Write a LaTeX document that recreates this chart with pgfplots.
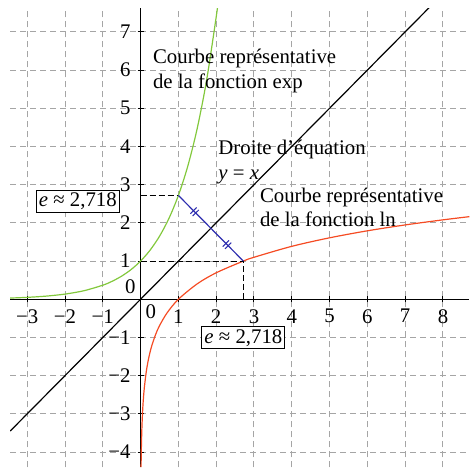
\documentclass[border=0pt]{standalone}
\usepackage{fontspec}
\setmainfont{Liberation Serif}
\usepackage{pgfplots}
\pgfplotsset{compat=1.18}
\usetikzlibrary{decorations.markings}

\definecolor{expgreen}{RGB}{130,200,60}
\definecolor{lnred}{RGB}{245,75,35}
\definecolor{segblue}{RGB}{45,45,175}
\definecolor{gridgray}{RGB}{165,165,165}

\begin{document}
\begin{tikzpicture}[font=\fontsize{10.4}{12.2}\selectfont]
\begin{axis}[
  x=18.9pt, y=19.1pt,
  xmin=-3.45, xmax=8.7, ymin=-4.4, ymax=7.62,
  axis lines=middle, axis line style={-, black, line width=0.6pt},
  xtick={-3,-2,-1,1,2,3,4,5,6,7,8},
  xticklabels={−3,−2,−1,1,2,3,4,5,6,7,8},
  ytick={-4,-3,-2,-1,1,2,3,4,5,6,7},
  yticklabels={−4,−3,−2,−1,1,2,3,4,5,6,7},
  grid=major,
  major grid style={gridgray, dash pattern=on 3pt off 2pt, line width=0.5pt},
  tick style={black, line width=0.5pt}, major tick length=3pt,
  tick label style={font=\fontsize{10.4}{12}\selectfont},
]
% y = x
\addplot[black, line width=0.6pt] coordinates {(-3.45,-3.45) (7.7,7.7)};
% exp
\addplot[expgreen, line width=0.6pt, smooth] coordinates {
  (-3.45,0.0317) (-3,0.0498) (-2.5,0.0821) (-2,0.1353) (-1.5,0.2231)
  (-1,0.3679) (-0.75,0.4724) (-0.5,0.6065) (-0.25,0.7788) (0,1)
  (0.25,1.2840) (0.5,1.6487) (0.75,2.1170) (1,2.7183) (1.25,3.4903)
  (1.5,4.4817) (1.75,5.7546) (2,7.3891) (2.05,7.7679)};
% ln
\addplot[lnred, line width=0.6pt, smooth] coordinates {
  (0.0123,-4.398) (0.015,-4.200) (0.02,-3.912) (0.03,-3.507) (0.04,-3.219)
  (0.05,-2.996) (0.06,-2.813) (0.075,-2.590) (0.1,-2.303) (0.15,-1.897)
  (0.2,-1.609) (0.25,-1.386) (0.3,-1.204) (0.4,-0.916) (0.5,-0.693)
  (0.7,-0.357) (1,0) (1.5,0.405) (2,0.693) (2.7183,1) (3,1.099)
  (4,1.386) (5,1.609) (6,1.792) (7,1.946) (8,2.079) (8.7,2.163)};
% dashed guides
\addplot[black, line width=0.5pt, dash pattern=on 3pt off 1.5pt] coordinates {(0,2.7183) (1,2.7183)};
\addplot[black, line width=0.5pt, dash pattern=on 3pt off 1.5pt] coordinates {(0,1) (2.7183,1) (2.7183,0)};
% symmetric segment with equal-length marks
\addplot[segblue, line width=0.6pt, postaction={decorate}, decoration={markings,
  mark=at position 0.25 with {\draw[segblue, line width=0.5pt] (-0.8pt,-2.2pt)--(-0.8pt,2.2pt) (0.8pt,-2.2pt)--(0.8pt,2.2pt);},
  mark=at position 0.75 with {\draw[segblue, line width=0.5pt] (-0.8pt,-2.2pt)--(-0.8pt,2.2pt) (0.8pt,-2.2pt)--(0.8pt,2.2pt);}}]
  coordinates {(1,2.7183) (2.7183,1)};
% labels
\node[draw, fill=white, inner sep=1.3pt, line width=0.5pt] at (axis cs:-1.66,2.56) {\textit{e} ≈ 2,718};
\node[draw, fill=white, inner sep=1.3pt, line width=0.5pt] at (axis cs:2.72,-1.01) {\textit{e} ≈ 2,718};
\node[anchor=north west, align=left, inner sep=0pt] at (axis cs:0.32,6.55) {Courbe représentative\\de la fonction exp};
\node[anchor=north west, align=left, inner sep=0pt] at (axis cs:2.05,4.17) {Droite d’équation\\\textit{y} = \textit{x}};
\node[anchor=north west, align=left, inner sep=0pt] at (axis cs:3.15,2.93) {Courbe représentative\\de la fonction ln};
\node at (axis cs:0.27,-0.33) {0};
\node at (axis cs:-0.27,0.33) {0};
\coordinate (bbl) at (axis cs:-3.72,-4.39);
\coordinate (btr) at (axis cs:8.69,7.835);
\end{axis}
\path (bbl) rectangle (btr);
\end{tikzpicture}
\end{document}
